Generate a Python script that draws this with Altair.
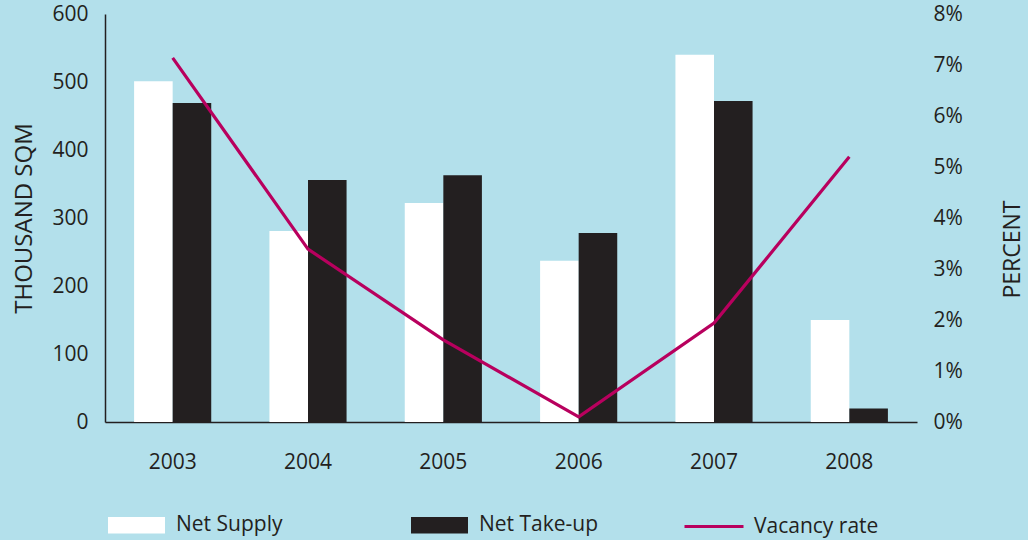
import altair as alt
import pandas as pd

# ---- data ----
years = ["2003", "2004", "2005", "2006", "2007", "2008"]
net_supply = [501, 281, 322, 237, 540, 150]
net_takeup = [469, 356, 363, 278, 472, 20]
vacancy = [0.0714, 0.0339, 0.0161, 0.0010, 0.0194, 0.0520]
bar_series = ["Net Supply", "Net Take-up"]
line_series = ["Vacancy rate"]
left_ticks = [0, 100, 200, 300, 400, 500, 600]
right_ticks = [0, 0.01, 0.02, 0.03, 0.04, 0.05, 0.06, 0.07, 0.08]

bars_df = pd.DataFrame({
    "year": years * 2,
    "series": [bar_series[0]] * len(years) + [bar_series[1]] * len(years),
    "value": net_supply + net_takeup,
})
line_df = pd.DataFrame({
    "year": years,
    "rate": vacancy,
    "series": line_series * len(years),
})

BG = "#b3e0eb"
INK = "#231f20"
CRIMSON = "#b8005e"
FONT = "Open Sans"

xscale = alt.Scale(domain=years, paddingInner=0.43, paddingOuter=0.215)
xaxis = alt.Axis(title=None, labelAngle=0, labelFontSize=21, labelPadding=29,
                 ticks=False, domainColor=INK, domainWidth=1.5, labelColor=INK)

bars = alt.Chart(bars_df).mark_bar().encode(
    x=alt.X("year:N", scale=xscale, axis=xaxis),
    xOffset=alt.XOffset("series:N", scale=alt.Scale(domain=bar_series, paddingInner=0, paddingOuter=0)),
    y=alt.Y("value:Q", scale=alt.Scale(domain=[0, 600], nice=False),
            axis=alt.Axis(values=left_ticks, title="THOUSAND SQM", titleFontSize=24,
                          titleFontWeight="normal", titleColor=INK, titleAngle=270,
                          titleX=-74, titleBaseline="alphabetic",
                          labelFontSize=21, labelColor=INK, labelPadding=17,
                          ticks=False, grid=False, domainColor=INK, domainWidth=1.5)),
    fill=alt.Fill("series:N", scale=alt.Scale(domain=bar_series, range=["#ffffff", INK]),
                  legend=alt.Legend(title=None, orient="none", direction="horizontal",
                                    legendX=3, legendY=482.5, padding=0,
                                    symbolType="M-1,-0.29H1V0.29H-1Z", symbolSize=3249,
                                    symbolStrokeWidth=0, symbolOpacity=1,
                                    labelFontSize=21, labelColor=INK, labelOffset=11,
                                    columnPadding=128, labelLimit=300)),
)

line = alt.Chart(line_df).mark_line(strokeWidth=3.2).encode(
    x=alt.X("year:N", scale=xscale, axis=xaxis),
    y=alt.Y("rate:Q", scale=alt.Scale(domain=[0, 0.08], nice=False),
            axis=alt.Axis(orient="right", values=right_ticks, format=".0%",
                          title="PERCENT", titleFontSize=23, titleFontWeight="normal",
                          titleColor=INK, titleAngle=270, titleX=102, titleY=235,
                          titleBaseline="alphabetic",
                          labelFontSize=21, labelColor=INK, labelPadding=16,
                          ticks=False, grid=False, domain=False)),
    stroke=alt.Stroke("series:N", scale=alt.Scale(domain=line_series, range=[CRIMSON]),
                      legend=alt.Legend(title=None, orient="none", legendX=578, legendY=481.5,
                                        padding=0, symbolType="stroke", symbolSize=3481,
                                        symbolStrokeWidth=3, labelFontSize=21,
                                        labelColor=INK, labelOffset=9, labelLimit=300)),
)

chart = alt.layer(bars, line).resolve_scale(y="independent").properties(
    width=812, height=408,
    autosize=alt.AutoSizeParams(type="none"),
    padding={"left": 105, "top": 14, "right": 111, "bottom": 118},
    background=BG,
).configure(font=FONT).configure_view(stroke=None)

chart.save("out.html", embed_options={"renderer": "svg", "actions": False})
